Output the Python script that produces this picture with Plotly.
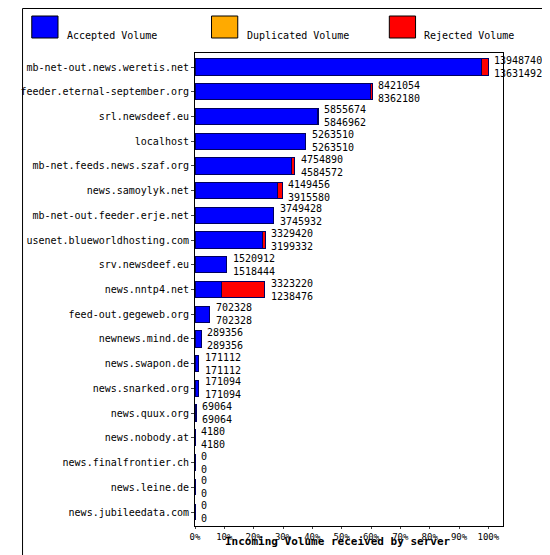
import plotly.graph_objects as go

servers = ["mb-net-out.news.weretis.net", "feeder.eternal-september.org", "srl.newsdeef.eu",
           "localhost", "mb-net.feeds.news.szaf.org", "news.samoylyk.net",
           "mb-net-out.feeder.erje.net", "usenet.blueworldhosting.com", "srv.newsdeef.eu",
           "news.nntp4.net", "feed-out.gegeweb.org", "newnews.mind.de", "news.swapon.de",
           "news.snarked.org", "news.quux.org", "news.nobody.at", "news.finalfrontier.ch",
           "news.leine.de", "news.jubileedata.com"]
total = [13948740, 8421054, 5855674, 5263510, 4754890, 4149456, 3749428, 3329420, 1520912,
         3323220, 702328, 289356, 171112, 171094, 69064, 4180, 0, 0, 0]
accepted = [13631492, 8362180, 5846962, 5263510, 4584572, 3915580, 3745932, 3199332, 1518444,
            1238476, 702328, 289356, 171112, 171094, 69064, 4180, 0, 0, 0]
duplicated = [0, 0, 0, 0, 0, 0, 0, 0, 2468, 0, 0, 0, 0, 0, 0, 0, 0, 0, 0]
rejected = [t - a - d for t, a, d in zip(total, accepted, duplicated)]

mx = max(total)
pct = lambda v: [100.0 * x / mx for x in v]
font = dict(family="DejaVu Sans Mono", size=10, color="black")

# plot area in pixels: left 178, right 495, top 45, bottom 518
L, R, T, B, W, H = 178, 495, 45, 518, 550, 555
PW, PH = R - L, B - T
px = lambda x: (x - L) / PW
py = lambda y: (B - y) / PH

fig = go.Figure()
for name, vals, col in [("Accepted Volume", accepted, "#0000ff"),
                        ("Duplicated Volume", duplicated, "#ffaa00"),
                        ("Rejected Volume", rejected, "#ff0000")]:
    fig.add_trace(go.Bar(y=servers, x=pct(vals), orientation="h", name=name,
                         marker=dict(color=col, line=dict(color="#000060", width=1)),
                         width=0.66, showlegend=False))

for s, t, a in zip(servers, total, accepted):
    fig.add_annotation(x=100.0 * t / mx, y=s, text=f"{t}<br>{a}", showarrow=False,
                       xanchor="left", xshift=4, align="left", font=font)

shapes = [dict(type="rect", xref="paper", yref="paper", x0=px(0.5), x1=px(W - 1),
               y0=py(H - 1), y1=py(0.5), line=dict(color="black", width=1))]
legend = [(10, "#0000ff", "Accepted Volume"), (195, "#ffaa00", "Duplicated Volume"),
          (378, "#ff0000", "Rejected Volume")]
for x0, col, lab in legend:
    shapes.append(dict(type="rect", xref="paper", yref="paper",
                       x0=px(x0), x1=px(x0 + 27), y0=py(30), y1=py(8),
                       fillcolor=col, line=dict(color="black", width=1)))
    fig.add_annotation(xref="paper", yref="paper", x=px(x0 + 34), y=py(20),
                       text=lab, showarrow=False, xanchor="left", font=font)

fig.add_annotation(xref="paper", yref="paper", x=px(325), y=py(542),
                   text="<b>Incoming Volume received by server</b>",
                   showarrow=False, font=dict(family="DejaVu Sans Mono", size=11))

fig.update_layout(
    width=W, height=H, barmode="stack",
    margin=dict(l=L, r=W - R, t=T, b=H - B, pad=0),
    plot_bgcolor="white", paper_bgcolor="white", font=font, shapes=shapes,
    xaxis=dict(range=[0, 105], tickvals=list(range(0, 101, 10)),
               ticktext=[f"{v}%" for v in range(0, 101, 10)], showgrid=False,
               showline=True, mirror=True, linecolor="black", ticks="outside", ticklen=2,
               zeroline=False, tickfont=dict(family="DejaVu Sans Mono", size=9)),
    yaxis=dict(autorange="reversed", showline=True, mirror=True, linecolor="black",
               ticks="outside", ticklen=3, showgrid=False),
)
fig.write_html("out.html")
